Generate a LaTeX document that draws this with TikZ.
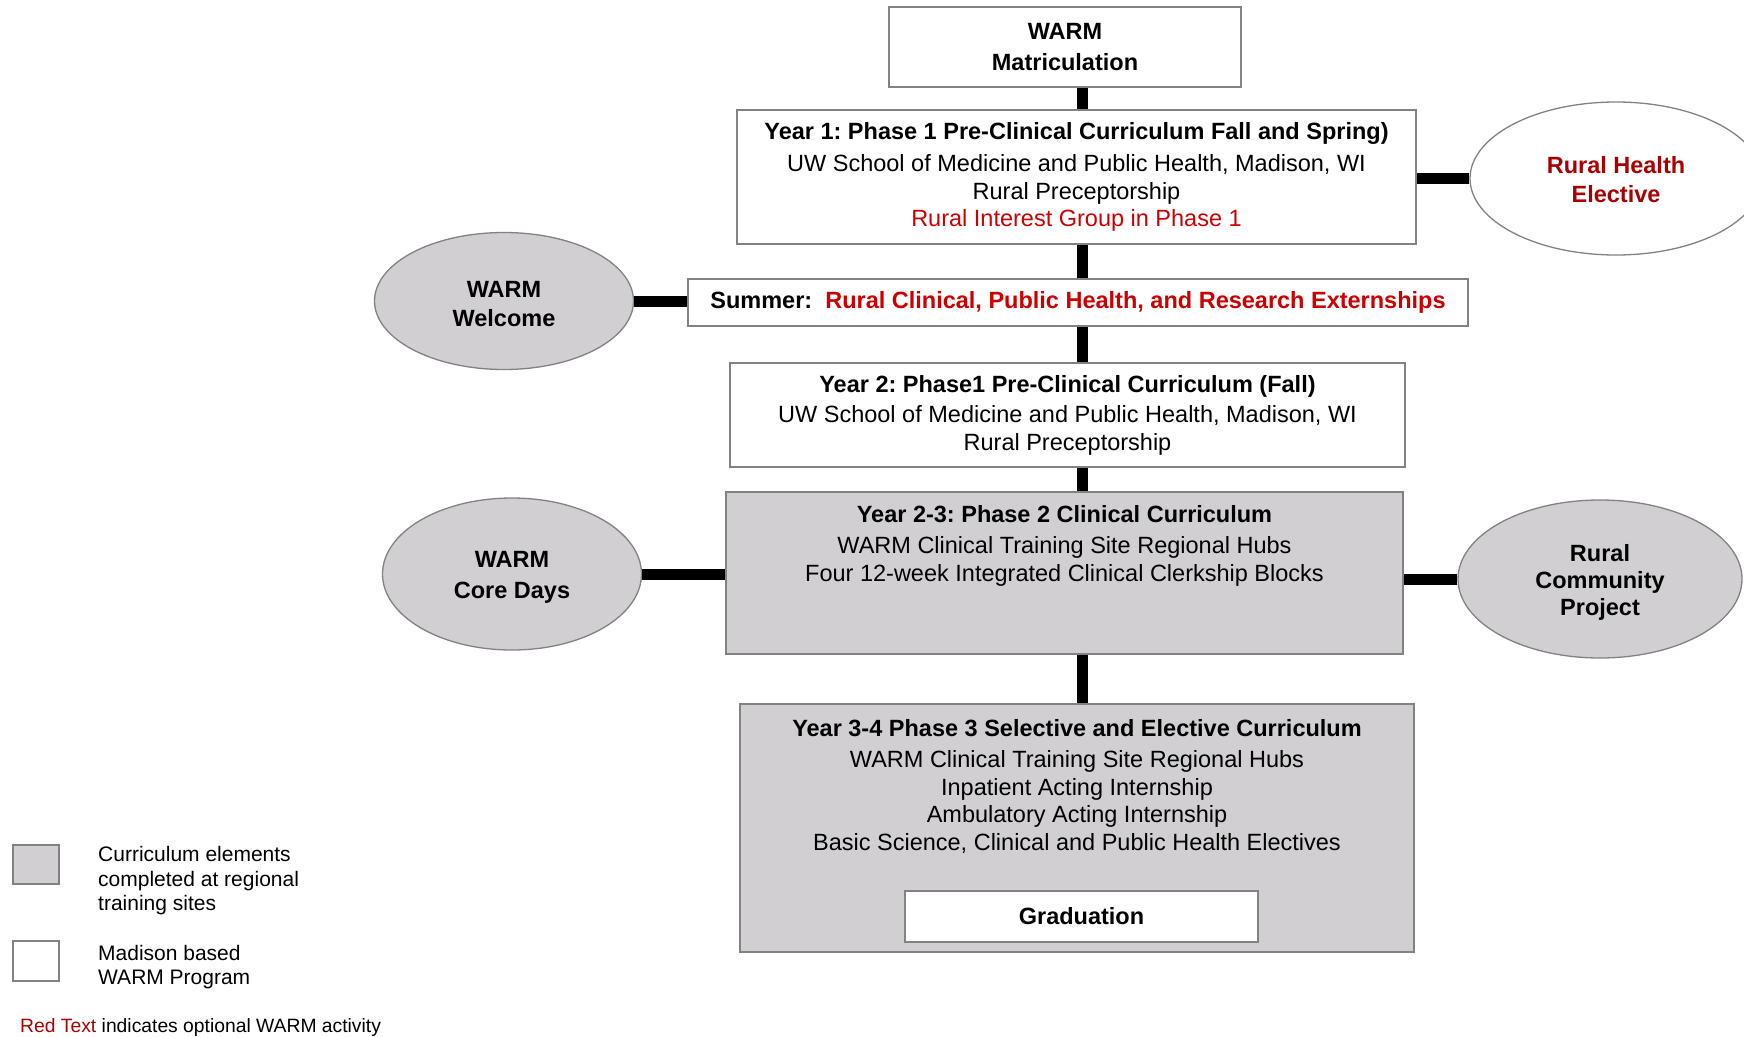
\documentclass[tikz,border=0pt]{standalone}
\usepackage{fontspec}
\setmainfont{Liberation Sans}
\usepackage{tikz}
\usetikzlibrary{shapes.geometric}

\definecolor{sitegray}{RGB}{209,207,209}
\definecolor{edgegray}{RGB}{130,130,130}
\definecolor{optred}{RGB}{204,0,0}
\definecolor{deepred}{RGB}{170,0,0}

\frenchspacing

\begin{document}
\begin{tikzpicture}[
        x=1pt, y=-1pt,
        madison/.style={rectangle, draw=edgegray, line width=1.6pt, fill=white, inner sep=0pt, align=center,
            font=\fontsize{23.5}{27.5}\selectfont},
        regional/.style={madison, fill=sitegray},
        oval/.style={ellipse, draw=edgegray, line width=1.3pt, fill=sitegray, inner sep=0pt},
        ovaltext/.style={align=center, inner sep=0pt, yshift=-3pt, font=\fontsize{23.5}{29}\selectfont\bfseries},
        inside/.style={anchor=north, inner sep=0pt, align=center, font=\fontsize{23.5}{27.5}\selectfont},
        link/.style={line width=11pt, black},
        legend/.style={anchor=west, inner sep=0pt, align=left, font=\fontsize{21}{24.5}\selectfont}
    ]
        \useasboundingbox (0,0) rectangle (1744,1036);

        % Main column
        \node[madison, minimum width=352pt, minimum height=80pt] (matric) at (1065,47)
            {\textbf{WARM}\\[3.5pt]\textbf{Matriculation}};
        \node[madison, minimum width=679pt, minimum height=134pt] (year1) at (1076.5,177)
            {\textbf{Year 1: Phase 1 Pre-Clinical Curriculum Fall and Spring)}\\[5pt]
             UW School of Medicine and Public Health, Madison, WI\\
             Rural Preceptorship\\
             \textcolor{optred}{Rural Interest Group in Phase 1}};
        \node[madison, minimum width=780pt, minimum height=47pt] (summer) at (1078,302.5)
            {\textbf{Summer:\ \ \textcolor{optred}{Rural Clinical, Public Health, and Research Externships}}};
        \node[madison, minimum width=675pt, minimum height=104pt] (year2) at (1067.5,415)
            {\textbf{Year 2: Phase1 Pre-Clinical Curriculum (Fall)}\\[3pt]
             UW School of Medicine and Public Health, Madison, WI\\
             Rural Preceptorship};
        \node[regional, minimum width=677pt, minimum height=162pt] (year23) at (1064.5,573) {};
        \node[inside] (year23text) at ([yshift=-14.5pt]year23.north)
            {\textbf{Year 2-3: Phase 2 Clinical Curriculum}\\[3.5pt]
             WARM Clinical Training Site Regional Hubs\\
             Four 12-week Integrated Clinical Clerkship Blocks};
        \node[regional, minimum width=674pt, minimum height=248pt] (year34) at (1077,828) {};
        \node[inside] (year34text) at ([yshift=-16pt]year34.north)
            {\textbf{Year 3-4 Phase 3 Selective and Elective Curriculum}\\[4pt]
             WARM Clinical Training Site Regional Hubs\\
             Inpatient Acting Internship\\
             Ambulatory Acting Internship\\
             Basic Science, Clinical and Public Health Electives};
        \node[madison, minimum width=353pt, minimum height=51pt] (grad) at (1081.5,916.5)
            {\textbf{Graduation}};

        % Side ovals
        \node[oval, fill=white, minimum width=292pt, minimum height=153pt,
            label={[ovaltext, yshift=2pt, text=deepred]center:Rural Health\\Elective}] (elective) at (1616,178.5) {};
        \node[oval, minimum width=259pt, minimum height=137pt,
            label={[ovaltext]center:WARM\\Welcome}] (welcome) at (504,301) {};
        \node[oval, minimum width=259pt, minimum height=152pt,
            label={[ovaltext, font=\fontsize{23.5}{31}\selectfont\bfseries]center:WARM\\Core Days}] (coredays) at (512,574) {};
        \node[oval, minimum width=284pt, minimum height=158pt,
            label={[ovaltext, font=\fontsize{23.5}{27}\selectfont\bfseries]center:Rural\\Community\\Project}] (project) at (1600,579) {};

        % Links
        \coordinate (spine) at (1082,0);
        \draw[link] (matric.south -| spine) -- (year1.north -| spine);
        \draw[link] (year1.south -| spine) -- (summer.north -| spine);
        \draw[link] (summer.south -| spine) -- (year2.north -| spine);
        \draw[link] (year2.south -| spine) -- (year23.north -| spine);
        \draw[link] (year23.south -| spine) -- (year34.north -| spine);
        \draw[link] (elective.west) -- (elective.west -| year1.east);
        \draw[link] (welcome.east) -- (welcome.east -| summer.west);
        \draw[link] (coredays.east) -- (coredays.east -| year23.west);
        \draw[link] (project.west) -- (project.west -| year23.east);

        % Legend
        \node[regional, minimum width=46pt, minimum height=39pt] (keysite) at (36,864.5) {};
        \node[madison, minimum width=46pt, minimum height=40pt] (keymadison) at (36,961) {};
        \node[legend] (keysitetext) at (98,881) {Curriculum elements\\completed at regional\\training sites};
        \node[legend] (keymadisontext) at (98,967) {Madison based\\WARM Program};
        \node[legend, font=\fontsize{19.3}{22}\selectfont] (keyred) at (20,1027)
            {\textcolor{deepred}{Red Text} indicates optional WARM activity};
    \end{tikzpicture}
\end{document}
